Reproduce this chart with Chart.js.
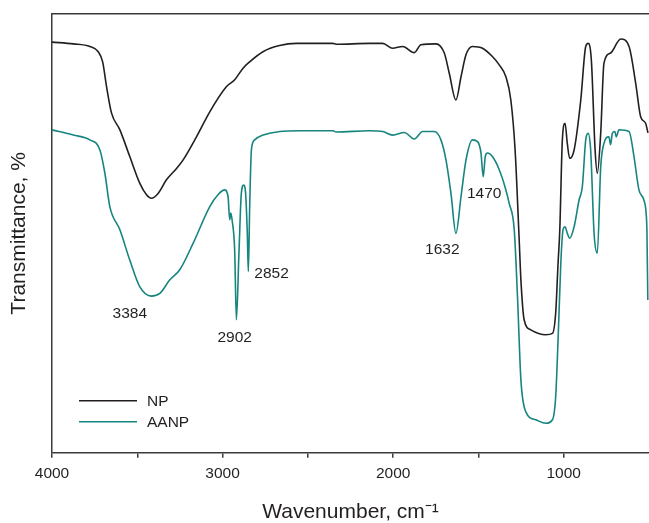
<!DOCTYPE html>
<html>
<head>
<meta charset="utf-8">
<script src="https://cdn.jsdelivr.net/npm/chart.js@4.4.1/dist/chart.umd.min.js"></script>
<style>
  body { margin: 0; background: #fff; }
  #wrap { width: 649px; height: 523px; }
</style>
</head>
<body>
<div id="wrap"><canvas id="ftir" width="649" height="523"></canvas></div>
<script>
// FTIR spectra NP / AANP

const npWavenumber = [4000, 3875, 3778, 3729, 3703, 3680, 3651, 3602, 3544, 3485, 3446, 3417, 3378, 3329, 3270, 3232, 3153, 3075, 2978, 2929, 2881, 2841, 2763, 2666, 2568, 2354, 2334, 2139, 2061, 2003, 1944, 1876, 1837, 1749, 1700, 1671, 1632, 1602, 1573, 1535, 1476, 1418, 1378, 1339, 1310, 1285, 1261, 1251, 1232, 1193, 1105, 1066, 1047, 1033, 1023, 1008, 992, 979, 965, 939, 900, 871, 856, 838, 816, 803, 783, 764, 725, 666, 617, 578, 549, 520, 506];
const npTransmittance = [93.6, 93.2, 92.6, 91.4, 89.1, 83.4, 77.4, 73.6, 67.5, 61.4, 58.8, 58.0, 59.1, 62.2, 64.8, 66.7, 72.0, 77.7, 83.4, 85.0, 87.6, 89.1, 91.4, 92.8, 93.3, 93.3, 93.1, 93.3, 93.3, 92.2, 92.6, 91.2, 93.0, 93.2, 91.1, 86.5, 80.4, 85.7, 90.7, 92.6, 92.2, 90.3, 88.4, 85.7, 80.4, 69.0, 48.5, 39.4, 30.3, 28.0, 26.9, 27.2, 31.9, 43.3, 50.8, 71.3, 75.1, 70.5, 67.1, 69.0, 80.4, 92.6, 93.3, 89.5, 69.0, 63.7, 72.9, 88.8, 91.1, 94.3, 92.6, 84.2, 76.6, 75.1, 72.9];

const aanpWavenumber = [4000, 3875, 3778, 3719, 3690, 3661, 3602, 3544, 3485, 3417, 3368, 3309, 3251, 3173, 3075, 3027, 2988, 2968, 2958, 2952, 2943, 2929, 2919, 2904, 2890, 2876, 2865, 2855, 2849, 2841, 2831, 2812, 2763, 2666, 2549, 2354, 2334, 2139, 2061, 2003, 1934, 1876, 1827, 1759, 1720, 1690, 1661, 1632, 1602, 1573, 1535, 1505, 1485, 1472, 1460, 1447, 1418, 1378, 1339, 1320, 1290, 1271, 1251, 1222, 1164, 1105, 1066, 1047, 1031, 1017, 1004, 992, 979, 965, 939, 910, 891, 871, 857, 842, 822, 803, 783, 764, 735, 725, 715, 700, 692, 676, 617, 588, 559, 530, 517, 512, 507];
const aanpTransmittance = [73.6, 72.4, 71.3, 69.0, 63.7, 56.1, 50.8, 43.9, 37.8, 35.7, 36.3, 39.4, 41.7, 47.7, 56.1, 58.8, 59.9, 58.4, 53.1, 54.6, 52.7, 46.1, 30.3, 45.5, 59.1, 61.0, 59.1, 50.0, 41.3, 56.1, 69.0, 71.3, 72.4, 73.2, 73.4, 73.4, 73.1, 73.4, 73.2, 72.4, 73.0, 71.5, 73.2, 73.2, 71.3, 66.7, 59.1, 50.0, 58.4, 66.7, 71.3, 70.9, 68.3, 62.9, 67.5, 68.3, 67.5, 64.5, 59.9, 56.9, 50.8, 35.6, 16.6, 9.3, 7.5, 6.7, 7.5, 12.8, 28.0, 43.2, 50.8, 51.5, 50.0, 48.9, 51.5, 57.6, 60.6, 71.3, 72.8, 69.0, 50.0, 45.5, 65.2, 70.5, 72.0, 70.2, 72.8, 73.2, 72.0, 73.6, 73.2, 67.5, 59.9, 57.6, 54.7, 50.3, 34.8];

// peak labels: text, and where the text sits (wavenumber, transmittance)
const peakLabels = ["3384", "2902", "2852", "1632", "1470"];
const peakLabelWn = [3544, 2929, 2713, 1712, 1466];
const peakLabelT = [31.6, 26.1, 40.7, 46.2, 59.0];

const seriesNames = ["NP", "AANP"];
const seriesColors = ["#231f20", "#17857f"];

function toPoints(xs, ys) {
  return xs.map((x, i) => ({x: x, y: ys[i]}));
}

const textColor = "#231f20";
const axisColor = "#3b3b3b";
const fontFamily = "'Liberation Sans', Arial, sans-serif";

// peak numbers
const peakLabelPlugin = {
  id: "peakLabels",
  afterDatasetsDraw(chart) {
    const ctx = chart.ctx;
    const xs = chart.scales.x, ys = chart.scales.y;
    ctx.save();
    ctx.font = "15.5px " + fontFamily;
    ctx.fillStyle = textColor;
    ctx.textAlign = "center";
    ctx.textBaseline = "middle";
    peakLabels.forEach((t, i) => {
      ctx.fillText(t, xs.getPixelForValue(peakLabelWn[i]), ys.getPixelForValue(peakLabelT[i]));
    });
    ctx.restore();
  }
};

// legend in lower left corner of plot
const innerLegend = {
  id: "innerLegend",
  afterDraw(chart, args, opts) {
    const ctx = chart.ctx;
    const area = chart.chartArea;
    ctx.save();
    ctx.font = "15.5px " + fontFamily;
    ctx.textBaseline = "middle";
    chart.data.datasets.forEach((ds, i) => {
      const y = area.bottom - opts.bottom - (chart.data.datasets.length - 1 - i) * opts.rowGap;
      const x0 = area.left + opts.left;
      ctx.strokeStyle = ds.borderColor;
      ctx.lineWidth = 1.5;
      ctx.beginPath();
      ctx.moveTo(x0, y);
      ctx.lineTo(x0 + opts.lineLen, y);
      ctx.stroke();
      ctx.fillStyle = textColor;
      ctx.fillText(ds.label, x0 + opts.lineLen + 10, y + 1);
    });
    ctx.restore();
  }
};

// keep the plot running to the right edge
function fitX(h) {
  return s => { s.height = h; s.paddingLeft = 0; s.paddingRight = 0; };
}

new Chart(document.getElementById("ftir"), {
  type: "line",
  data: {
    datasets: [
      {label: seriesNames[0], data: toPoints(npWavenumber, npTransmittance), borderColor: seriesColors[0]},
      {label: seriesNames[1], data: toPoints(aanpWavenumber, aanpTransmittance), borderColor: seriesColors[1]}
    ]
  },
  options: {
    responsive: false,
    animation: false,
    layout: {padding: {top: 14, left: 0, right: 0, bottom: 0}},
    elements: {
      point: {radius: 0},
      line: {borderWidth: 1.6, cubicInterpolationMode: "monotone", fill: false}
    },
    plugins: {
      legend: {display: false},
      tooltip: {enabled: false},
      innerLegend: {left: 27, lineLen: 58, bottom: 31, rowGap: 21}
    },
    scales: {
      x: {
        type: "linear",
        reverse: true,
        min: 500,
        max: 4000,
        afterFit: fitX(70.3),
        border: {display: true, color: axisColor, width: 1.5},
        grid: {
          display: true, drawOnChartArea: false, drawTicks: true, tickLength: 5, lineWidth: 1.5,
          color: c => (c.tick && c.tick.value === 500 ? "rgba(0,0,0,0)" : axisColor)
        },
        ticks: {
          stepSize: 500,
          maxRotation: 0,
          padding: 7,
          color: textColor,
          font: {family: fontFamily, size: 15.5},
          callback: v => (v % 1000 === 0 && v >= 1000 ? String(v) : "")
        },
        title: {
          display: true,
          text: "Wavenumber, cm\u207B\u00B9",
          color: textColor,
          font: {family: fontFamily, size: 21, lineHeight: 1},
          padding: {top: 0, bottom: 0.5}
        }
      },
      xTop: {
        type: "linear",
        position: "top",
        reverse: true,
        min: 500,
        max: 4000,
        afterFit: fitX(0),
        border: {display: true, color: axisColor, width: 1.5},
        grid: {display: false},
        ticks: {display: false}
      },
      y: {
        min: 0,
        max: 100,
        afterFit: s => { s.width = 52; },
        border: {display: true, color: axisColor, width: 1.5},
        grid: {display: false},
        ticks: {display: false},
        title: {
          display: true,
          text: "Transmittance, %",
          color: textColor,
          font: {family: fontFamily, size: 21, lineHeight: 1},
          padding: {top: 8.5, bottom: 0}
        }
      }
    }
  },
  plugins: [peakLabelPlugin, innerLegend]
});
</script>
</body>
</html>
